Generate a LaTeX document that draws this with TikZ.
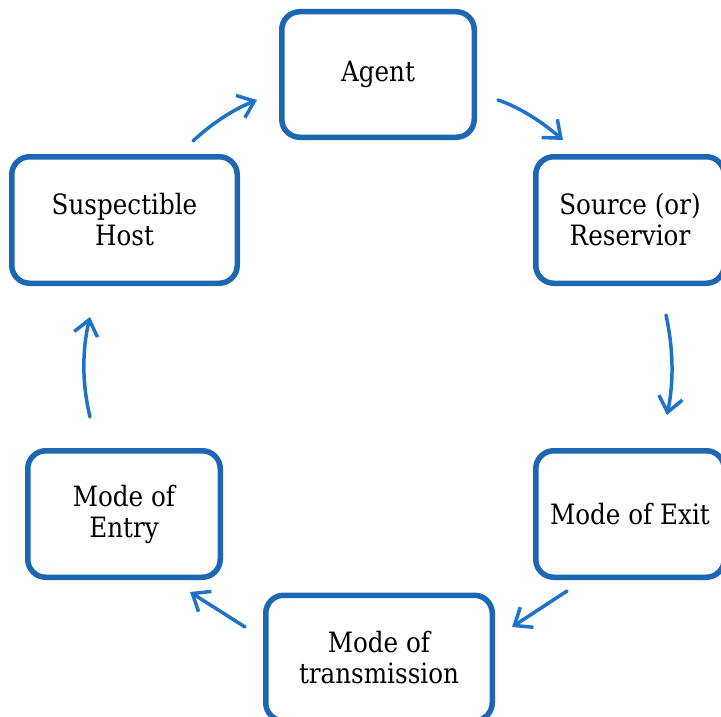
\documentclass[tikz,border=0pt]{standalone}
\usepackage{fontspec}
\setmainfont{DejaVu Serif}[FakeStretch=0.88]
\usetikzlibrary{arrows.meta}
\definecolor{boxblue}{RGB}{28,102,178}
\definecolor{arrowblue}{RGB}{30,115,200}
\begin{document}
\begin{tikzpicture}[x=1pt,y=-1pt,
  box/.style={draw=boxblue, line width=5.5pt, rounded corners=18pt, align=center,
    inner sep=0pt, fill=white,
    font=\fontsize{28}{31}\selectfont},
  arr/.style={draw=arrowblue, line width=3.5pt, line cap=round,
    -{Straight Barb[length=15pt,width=24pt,line width=3.5pt]}}]
\useasboundingbox (0,0) rectangle (721,717);
\node[box, minimum width=192.5pt, minimum height=125.5pt] (agent) at (378,74.5) {Agent};
\node[box, minimum width=188.5pt, minimum height=126.5pt] (source) at (630,220) {Source (or)\\Reservior};
\node[box, minimum width=188.5pt, minimum height=126.5pt] (exit) at (630,514) {Mode of Exit};
\node[box, minimum width=226.5pt, minimum height=125.5pt] (trans) at (379,658) {Mode of\\transmission};
\node[box, minimum width=192.5pt, minimum height=126.5pt] (entry) at (124,514) {Mode of\\Entry};
\node[box, minimum width=225.5pt, minimum height=126.5pt] (host) at (124.5,220) {Suspectible\\Host};
\coordinate (a1s) at (498,100);
\coordinate (a1e) at (563,140);
\coordinate (a2s) at (666,315);
\coordinate (a2e) at (667,415);
\coordinate (a3s) at (567,591);
\coordinate (a3e) at (512,627);
\coordinate (a4s) at (245,627);
\coordinate (a4e) at (190,592);
\coordinate (a5s) at (90,417);
\coordinate (a5e) at (90,317);
\coordinate (a6s) at (193,141);
\coordinate (a6e) at (257,100);
\draw[arr] (a1s) .. controls (518,106.7) and (539.7,120) .. (a1e);
\draw[arr] (a2s) .. controls (673.3,348.3) and (674,381.7) .. (a2e);
\draw[arr] (a3s) -- (a3e);
\draw[arr] (a4s) -- (a4e);
\draw[arr] (a5s) .. controls (82,383.7) and (82,350.3) .. (a5e);
\draw[arr] (a6s) .. controls (212.3,123) and (233.7,109.3) .. (a6e);
\end{tikzpicture}
\end{document}
